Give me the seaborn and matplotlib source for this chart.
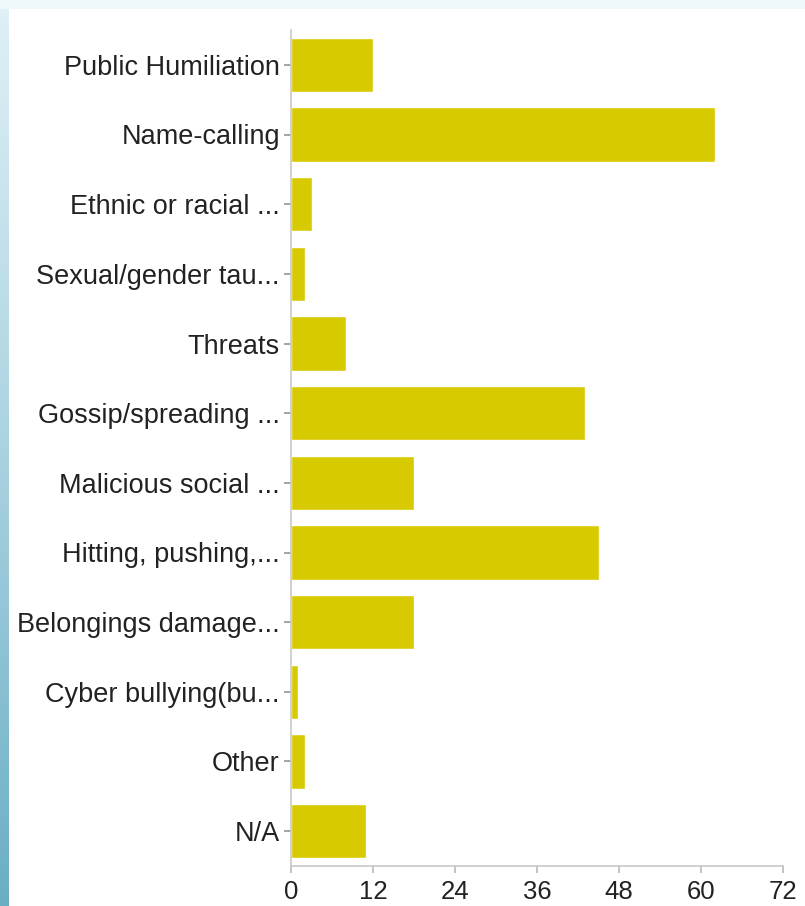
import matplotlib
matplotlib.use("Agg")
import matplotlib.pyplot as plt
import seaborn as sns
import numpy as np
import pandas as pd
from matplotlib.patches import Rectangle
from matplotlib.colors import LinearSegmentedColormap

categories = ["Public Humiliation", "Name-calling", "Ethnic or racial ...",
              "Sexual/gender tau...", "Threats", "Gossip/spreading ...",
              "Malicious social ...", "Hitting, pushing,...", "Belongings damage...",
              "Cyber bullying(bu...", "Other", "N/A"]
counts = [12, 62, 3, 2, 8, 43, 18, 45, 18, 1, 2, 11]
xticks = [0, 12, 24, 36, 48, 60, 72]

sns.set_theme(style="white")
plt.rcParams['font.family'] = ['Liberation Sans', 'DejaVu Sans']

fig = plt.figure(figsize=(8.05, 9.06), dpi=100)
fig.patch.set_facecolor("white")

# decorative frame: light top strip and blue gradient left strip
fig.patches.append(Rectangle((0, 1 - 9/906), 1, 9/906, transform=fig.transFigure,
                             facecolor="#eef8fb", edgecolor="none", zorder=0))
grad = np.linspace(0, 1, 256).reshape(-1, 1)
gax = fig.add_axes([0, 0, 8/805, 1 - 9/906])
cmap = LinearSegmentedColormap.from_list("edge", ["#6aaec5", "#a9d2e0", "#dff0f6"])
gax.imshow(grad, aspect="auto", cmap=cmap, origin="lower")
gax.set_axis_off()

ax = fig.add_axes([291/805, 1 - 866/906, (783 - 291)/805, (866 - 30)/906])
df = pd.DataFrame({"category": categories, "count": counts})
sns.barplot(data=df, x="count", y="category", color="#d8ca00", saturation=1,
            width=0.78, ax=ax, orient="h")
ax.set_xlim(0, 72)
ax.set_ylim(len(categories) - 0.5, -0.5)
ax.set_xticks(xticks)
ax.set_xticklabels([str(t) for t in xticks])
ax.set_xlabel("")
ax.set_ylabel("")
for s in ["top", "right"]:
    ax.spines[s].set_visible(False)
for s in ["left", "bottom"]:
    ax.spines[s].set_color("#c8c8c8")
    ax.spines[s].set_linewidth(1.2)
ax.tick_params(axis="y", length=5, color="#999999", labelsize=19.5,
               labelcolor="#222222", pad=3, left=True)
ax.tick_params(axis="x", length=5, color="#bbbbbb", labelsize=18.5,
               labelcolor="#222222", pad=5, bottom=True)
ax.set_facecolor("white")

fig.savefig("out.png", dpi=100)
